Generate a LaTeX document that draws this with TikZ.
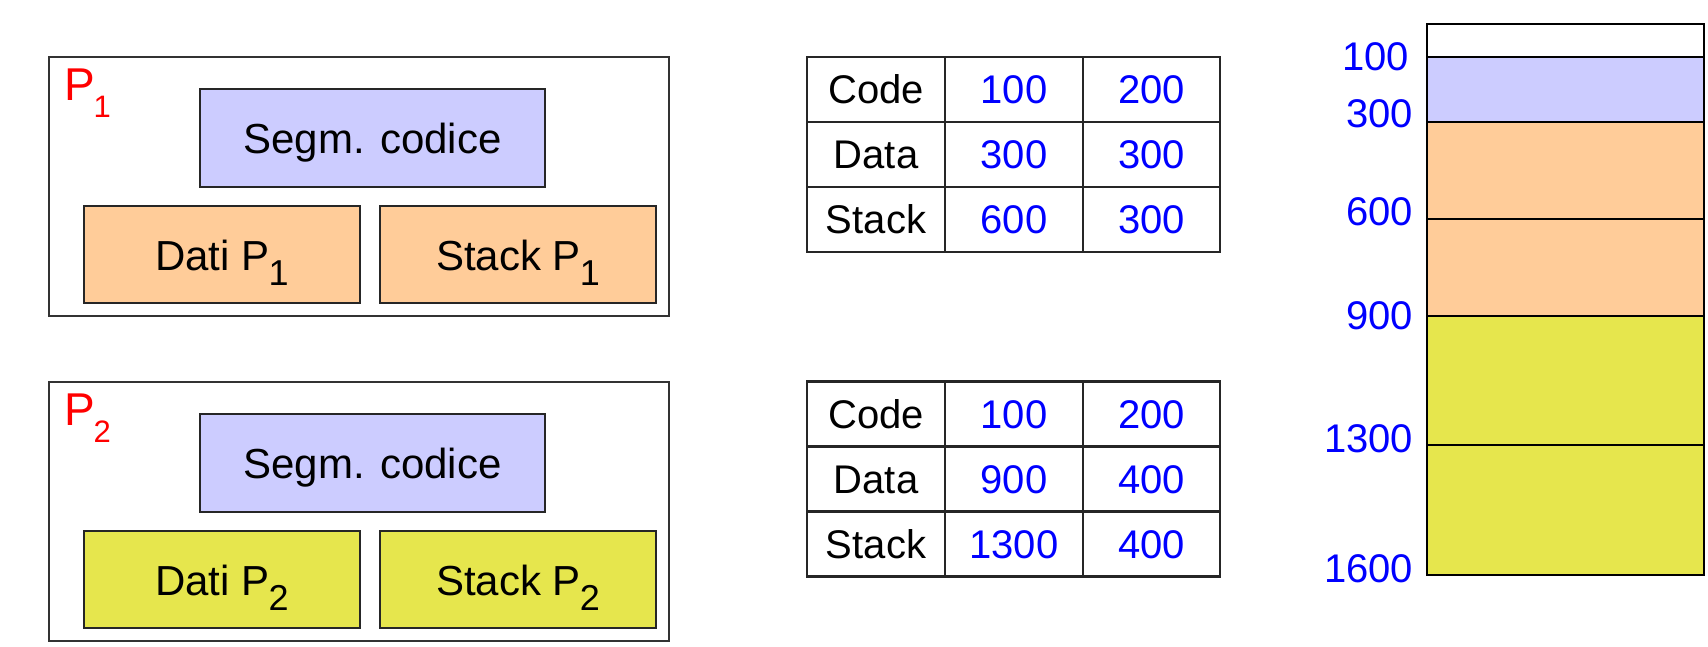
\documentclass[tikz,border=0pt]{standalone}
\usepackage{fontspec}
\setmainfont{Liberation Sans}
\usetikzlibrary{calc}
\definecolor{lav}{HTML}{CCCCFF}
\definecolor{ora}{HTML}{FFCC99}
\definecolor{yel}{HTML}{E6E64D}
\newcommand{\fsz}[1]{\fontsize{#1}{#1}\selectfont}
\newcommand{\subidx}[1]{\kern-1pt\raisebox{-15pt}{\fsz{36}#1}}
\begin{document}
\begin{tikzpicture}[x=1pt,y=-1pt,
  every node/.style={inner sep=0pt,outer sep=0pt},
  procbox/.style={draw=black!80,line width=1.6pt,fill=white},
  segbox/.style={draw=black!85,line width=1.8pt,text height=31pt,text depth=0pt,font=\fsz{42}},
  cell/.style={draw=black!85,line width=2.2pt,minimum height=65pt,text height=28pt,text depth=0pt,font=\fsz{40}},
  numcell/.style={cell,text=blue},
  memlbl/.style={anchor=east,text=blue,font=\fsz{40},text height=29pt,text depth=0pt},
  memseg/.style={draw=black,line width=1.4pt}]
\useasboundingbox (0,0) rectangle (1708,646);

% Process P1
\node[procbox,minimum width=620pt,minimum height=259pt] (p1) at (359,186.5) {};
\node[anchor=base west,text=red,font=\fsz{46}] (p1l) at (64,100) {P\kern-1pt\raisebox{-17pt}{\fsz{31}1}};
\node[segbox,fill=lav,minimum width=345pt,minimum height=98pt] (c1) at (372.5,138) {Segm. codice};
\node[segbox,fill=ora,minimum width=276pt,minimum height=97pt] (d1) at (222,254.5) {Dati P\subidx{1}};
\node[segbox,fill=ora,minimum width=276pt,minimum height=97pt] (s1) at (518,254.5) {Stack P\subidx{1}};

% Process P2
\node[procbox,minimum width=620pt,minimum height=259pt] (p2) at (359,511.5) {};
\node[anchor=base west,text=red,font=\fsz{46}] (p2l) at (64,425) {P\kern-1pt\raisebox{-17pt}{\fsz{31}2}};
\node[segbox,fill=lav,minimum width=345pt,minimum height=98pt] (c2) at (372.5,463) {Segm. codice};
\node[segbox,fill=yel,minimum width=276pt,minimum height=97pt] (d2) at (222,579.5) {Dati P\subidx{2}};
\node[segbox,fill=yel,minimum width=276pt,minimum height=97pt] (s2) at (518,579.5) {Stack P\subidx{2}};

% Table 1
\node[cell,minimum width=138pt] (t1a1) at (876,89.5) {Code};
\node[numcell,minimum width=138pt] (t1a2) at (1014,89.5) {100};
\node[numcell,minimum width=137pt] (t1a3) at (1151.5,89.5) {200};
\node[cell,minimum width=138pt] (t1b1) at (876,154.5) {Data};
\node[numcell,minimum width=138pt] (t1b2) at (1014,154.5) {300};
\node[numcell,minimum width=137pt] (t1b3) at (1151.5,154.5) {300};
\node[cell,minimum width=138pt] (t1c1) at (876,219.5) {Stack};
\node[numcell,minimum width=138pt] (t1c2) at (1014,219.5) {600};
\node[numcell,minimum width=137pt] (t1c3) at (1151.5,219.5) {300};

% Table 2
\node[cell,minimum width=138pt] (t2a1) at (876,414) {Code};
\node[numcell,minimum width=138pt] (t2a2) at (1014,414) {100};
\node[numcell,minimum width=137pt] (t2a3) at (1151.5,414) {200};
\node[cell,minimum width=138pt] (t2b1) at (876,479) {Data};
\node[numcell,minimum width=138pt] (t2b2) at (1014,479) {900};
\node[numcell,minimum width=137pt] (t2b3) at (1151.5,479) {400};
\node[cell,minimum width=138pt] (t2c1) at (876,544) {Stack};
\node[numcell,minimum width=138pt] (t2c2) at (1014,544) {1300};
\node[numcell,minimum width=137pt] (t2c3) at (1151.5,544) {400};

% Memory
\fill[white] (1427,24) rectangle (1704,57);
\fill[lav] (1427,57) rectangle (1704,122);
\fill[ora] (1427,122) rectangle (1704,316);
\fill[yel] (1427,316) rectangle (1704,575);
\draw[memseg] (1427,24) rectangle (1704,575);
\foreach \yy in {57,122,219,316,445} \draw[memseg] (1427,\yy) -- (1704,\yy);

\node[memlbl] (m100) at (1409,55.5) {100};
\node[memlbl] (m300) at (1413,113) {300};
\node[memlbl] (m600) at (1413,211) {600};
\node[memlbl] (m900) at (1413,314.5) {900};
\node[memlbl] (m1300) at (1413,438) {1300};
\node[memlbl] (m1600) at (1413,568) {1600};
\end{tikzpicture}
\end{document}
